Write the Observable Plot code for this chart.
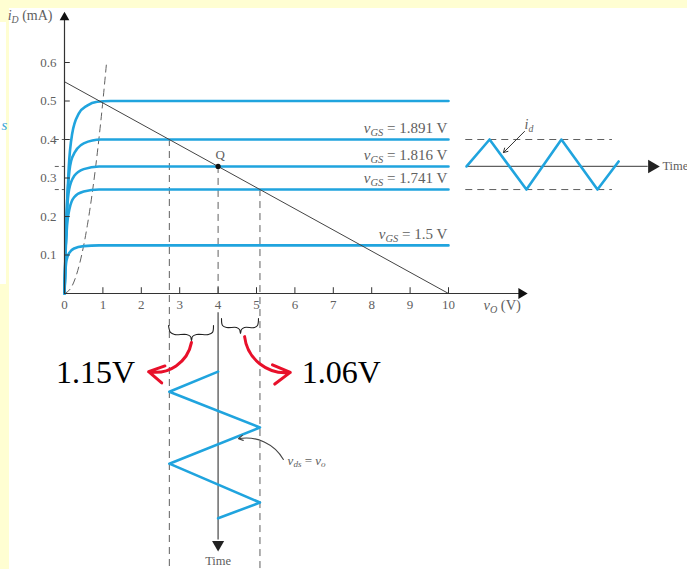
<!DOCTYPE html>
<html><head><meta charset="utf-8">
<script src="https://cdn.jsdelivr.net/npm/d3@7"></script>
<script src="https://cdn.jsdelivr.net/npm/@observablehq/plot@0.6"></script>
<style>
body{margin:0;background:#fffed2;}
#wrap{position:relative;width:687px;height:569px;background:#fffed2;overflow:hidden}
#white{position:absolute;left:9px;top:8px;right:0;bottom:0;background:#fff}
#white2{position:absolute;left:0;top:22px;width:6px;height:262px;background:#fff}
#chart{position:absolute;left:0;top:0}
</style></head><body>
<div id="wrap"><div id="white"></div><div id="white2"></div><div id="chart"></div></div>
<script>
// ---- data (v_O in volts, i_D in mA) ----
const xTicks = [0,1,2,3,4,5,6,7,8,9,10];
const yTicks = [0.1,0.2,0.3,0.4,0.5,0.6];
const vgsLabels = ["1.891 V","1.816 V","1.741 V","1.5 V"];
const vgsLevels = [0.4, 0.33, 0.27, 0.125];

const curveTop  = [[0,0],[0.03,0.12],[0.07,0.24],[0.11,0.327],[0.2,0.415],[0.37,0.467],[0.59,0.488],[0.85,0.498],[1.2,0.5],[10,0.5]];
const curve1891 = [[0,0],[0.03,0.12],[0.07,0.24],[0.11,0.30],[0.2,0.353],[0.5,0.39],[0.95,0.4],[1.3,0.4],[10,0.4]];
const curve1816 = [[0,0],[0.03,0.12],[0.07,0.22],[0.12,0.27],[0.25,0.305],[0.5,0.323],[0.9,0.33],[1.3,0.33],[10,0.33]];
const curve1741 = [[0,0],[0.03,0.11],[0.07,0.18],[0.13,0.22],[0.25,0.25],[0.5,0.265],[0.9,0.27],[1.3,0.27],[10,0.27]];
const curve15   = [[0,0],[0.02,0.05],[0.05,0.085],[0.12,0.105],[0.25,0.117],[0.5,0.123],[0.9,0.125],[1.3,0.125],[10,0.125]];
const satBoundary = [[0,0],[0.2,0.02],[0.4,0.08],[0.6,0.18],[0.8,0.32],[1.0,0.5],[1.1,0.605]];
const loadLine = [[0,0.55],[10,0]];
const qPoint = {v:4, i:0.33};
const swingLow = 2.73, swingHigh = 5.09;   // v_O at i_D = 0.4 and 0.27
// i_d waveform (time axis to the right, in v_O units)
const idWave = [[10.47,0.33],[11.07,0.4],[12.03,0.27],[12.94,0.4],[13.88,0.27],[14.43,0.343]];
// v_ds waveform (time axis downward, in i_D units)
const vdsWave = [[4,-0.203],[2.73,-0.255],[5.09,-0.348],[2.73,-0.442],[5.09,-0.543],[4,-0.584]];
const braceLeft = [[2.708,-0.083],[2.76,-0.101],[2.865,-0.1065],[3.177,-0.1065],[3.281,-0.1117],[3.307,-0.1221],[3.333,-0.1117],[3.4375,-0.1065],[3.75,-0.1065],[3.854,-0.101],[3.88,-0.083]];
const braceRight = [[4.089,-0.065],[4.115,-0.083],[4.219,-0.0883],[4.479,-0.0883],[4.557,-0.0935],[4.583,-0.1039],[4.609,-0.0935],[4.6875,-0.0883],[4.948,-0.0883],[5.026,-0.083],[5.052,-0.065]];
const swingText = ["1.15V","1.06V"];

const blue = "#20a4de", gray = "#606060", dark = "#333";
const serif = "Liberation Serif, Times New Roman, serif";

const curves = [
  {s:"top", pts:curveTop},{s:"1.891", pts:curve1891},{s:"1.816", pts:curve1816},
  {s:"1.741", pts:curve1741},{s:"1.5", pts:curve15}
].flatMap(c => c.pts.map(([v,i]) => ({s:c.s, v, i})));

const T = (opts) => ({fontFamily: serif, fill: gray, ...opts});

const chart = Plot.plot({
  width: 687, height: 569, margin: 0,
  x: {domain: [-64/38.4, (687-64)/38.4]},
  y: {domain: [-(569-293)/385, 293/385]},
  axis: null,
  style: {background: "transparent", overflow: "visible"},
  marks: [
    // dashed guide lines
    Plot.line(satBoundary, {x: d=>d[0], y: d=>d[1], stroke: gray, strokeWidth: 1, strokeDasharray: "7,5", curve: "monotone-x"}),
    Plot.ruleX([swingLow], {y1: vgsLevels[0], y2: -0.72, stroke: gray, strokeDasharray: "7,5"}),
    Plot.ruleX([swingHigh], {y1: vgsLevels[2], y2: -0.72, stroke: gray, strokeDasharray: "7,5"}),
    Plot.ruleX([qPoint.v], {y1: qPoint.i, y2: 0, stroke: gray, strokeDasharray: "7,5"}),
    Plot.ruleY([0.4, 0.33, 0.27], {x1: -0.24, x2: 0, stroke: gray, strokeDasharray: "4,3"}),
    // characteristic curves
    Plot.line(curves, {x: "v", y: "i", z: "s", stroke: blue, strokeWidth: 2.6, curve: "monotone-x"}),
    // load line
    Plot.line(loadLine, {x: d=>d[0], y: d=>d[1], stroke: "#444", strokeWidth: 1}),
    // axes
    Plot.ruleY([0], {x1: 0, x2: 11.9, stroke: dark, strokeWidth: 1.2}),
    Plot.ruleX([0], {y1: 0, y2: 0.71, stroke: dark, strokeWidth: 1.2}),
    Plot.dot([0], {x: 0, y: 0.717, symbol: "triangle", r: 3.6, fill: "#111", stroke: null}),
    Plot.dot([0], {x: 11.9, y: 0, symbol: "triangle", r: 4, fill: "#111", stroke: null, rotate: 90}),
    Plot.ruleX(xTicks.slice(1), {x: d=>d, y1: 0, y2: 0.015, stroke: dark}),
    Plot.ruleY(yTicks, {y: d=>d, x1: 0, x2: 0.15, stroke: dark}),
    Plot.text(xTicks, T({x: d=>d, y: 0, dy: 11, text: d=>String(d), fontSize: 13})),
    Plot.text(yTicks, T({x: 0, y: d=>d, dx: -8, text: d=>d.toFixed(1), textAnchor: "end", fontSize: 13})),
    Plot.text(["<i>i</i><sub>D</sub> (mA)"], T({x: -1.48, y: 0.723, text: d=>d, textAnchor: "start", fontSize: 14})),
    Plot.text(["<i>v</i><sub>O</sub> (V)"], T({x: 10.91, y: -0.031, text: d=>d, textAnchor: "start", fontSize: 14.5})),
    // curve labels
    Plot.text(vgsLabels, T({x: 9.97, y: (d,k)=>vgsLevels[k] + 0.03, text: d=>`<i>v</i><sub>GS</sub> = ${d}`, textAnchor: "end", fontSize: 15})),
    // Q point
    Plot.dot([qPoint], {x: "v", y: "i", r: 2.6, fill: "#111", stroke: null}),
    Plot.text([qPoint], T({x: "v", y: "i", dx: 2, dy: -12, text: ()=>"Q", fontSize: 13})),
    // i_d waveform on the right
    Plot.ruleY([0.4, 0.27], {x1: 10.45, x2: 14.27, stroke: gray, strokeDasharray: "7,5"}),
    Plot.ruleY([0.33], {x1: 10.47, x2: 15.2, stroke: gray, strokeWidth: 1.2}),
    Plot.dot([0], {x: 15.3, y: 0.33, symbol: "triangle", r: 5, fill: "#222", stroke: null, rotate: 90}),
    Plot.text(["Time"], T({x: 15.57, y: 0.33, text: d=>d, textAnchor: "start", fontSize: 12.5})),
    Plot.line(idWave, {x: d=>d[0], y: d=>d[1], stroke: blue, strokeWidth: 2.6}),
    Plot.arrow([0], {x1: 11.98, y1: 0.421, x2: 11.43, y2: 0.366, stroke: "#333", strokeWidth: 1, headLength: 7}),
    Plot.text(["<i>i</i><sub>d</sub>"], T({x: 11.98, y: 0.439, text: d=>d, textAnchor: "start", fontSize: 14})),
    // v_ds waveform below
    Plot.ruleX([qPoint.v], {y1: -0.05, y2: -0.64, stroke: gray, strokeWidth: 1.4}),
    Plot.dot([0], {x: qPoint.v, y: -0.652, symbol: "triangle", r: 4.5, fill: "#222", stroke: null, rotate: 180}),
    Plot.text(["Time"], T({x: qPoint.v, y: -0.694, text: d=>d, fontSize: 12.5})),
    Plot.line(vdsWave, {x: d=>d[0], y: d=>d[1], stroke: blue, strokeWidth: 2.6}),
    Plot.arrow([0], {x1: 5.70, y1: -0.431, x2: 4.53, y2: -0.377, bend: -35, stroke: "#444", strokeWidth: 1.1, headLength: 7}),
    Plot.text(["<i>v</i><sub>ds</sub> = <i>v</i><sub>o</sub>"], T({x: 5.81, y: -0.434, text: d=>d, textAnchor: "start", fontSize: 13})),
    // braces and swing annotations
    Plot.line(braceLeft, {x: d=>d[0], y: d=>d[1], stroke: "#222", strokeWidth: 1.1, curve: "catmull-rom"}),
    Plot.line(braceRight, {x: d=>d[0], y: d=>d[1], stroke: "#222", strokeWidth: 1.1, curve: "catmull-rom"}),
    Plot.arrow([0], {x1: 3.307, y1: -0.127, x2: 2.19, y2: -0.203, bend: 45, stroke: "#e8102a", strokeWidth: 3, headLength: 12}),
    Plot.arrow([0], {x1: 4.69, y1: -0.112, x2: 5.88, y2: -0.205, bend: -45, stroke: "#e8102a", strokeWidth: 3, headLength: 12}),
    Plot.text(swingText, {x: (d,k)=> k ? 7.21 : 0.81, y: -0.205, text: d=>d, fontFamily: serif, fontSize: 32, fill: "#000"}),
    // stray fragment at left edge
    Plot.text(["s"], {x: -1.64, y: 0.436, text: d=>d, textAnchor: "start", fontFamily: serif, fontStyle: "italic", fontSize: 15, fill: "#3aa6d8"})
  ]
});

// rich text: italic and subscript spans
chart.querySelectorAll("text").forEach(t => {
  const s = t.textContent;
  if (!s.includes("<")) return;
  t.textContent = "";
  const re = /<(i|sub)>(.*?)<\/\1>|([^<]+)/g;
  let m, shifted = false;
  while ((m = re.exec(s))) {
    const ts = document.createElementNS("http://www.w3.org/2000/svg", "tspan");
    if (m[1] === "sub") {
      ts.setAttribute("font-style", "italic");
      ts.setAttribute("font-size", "70%");
      ts.setAttribute("dy", "0.3em");
      ts.textContent = m[2];
      shifted = true;
    } else {
      if (m[1] === "i") { ts.setAttribute("font-style", "italic"); ts.textContent = m[2]; }
      else ts.textContent = m[3];
      if (shifted) { ts.setAttribute("dy", "-0.21em"); shifted = false; }
    }
    t.appendChild(ts);
  }
});

document.getElementById("chart").appendChild(chart);
</script>
</body></html>
